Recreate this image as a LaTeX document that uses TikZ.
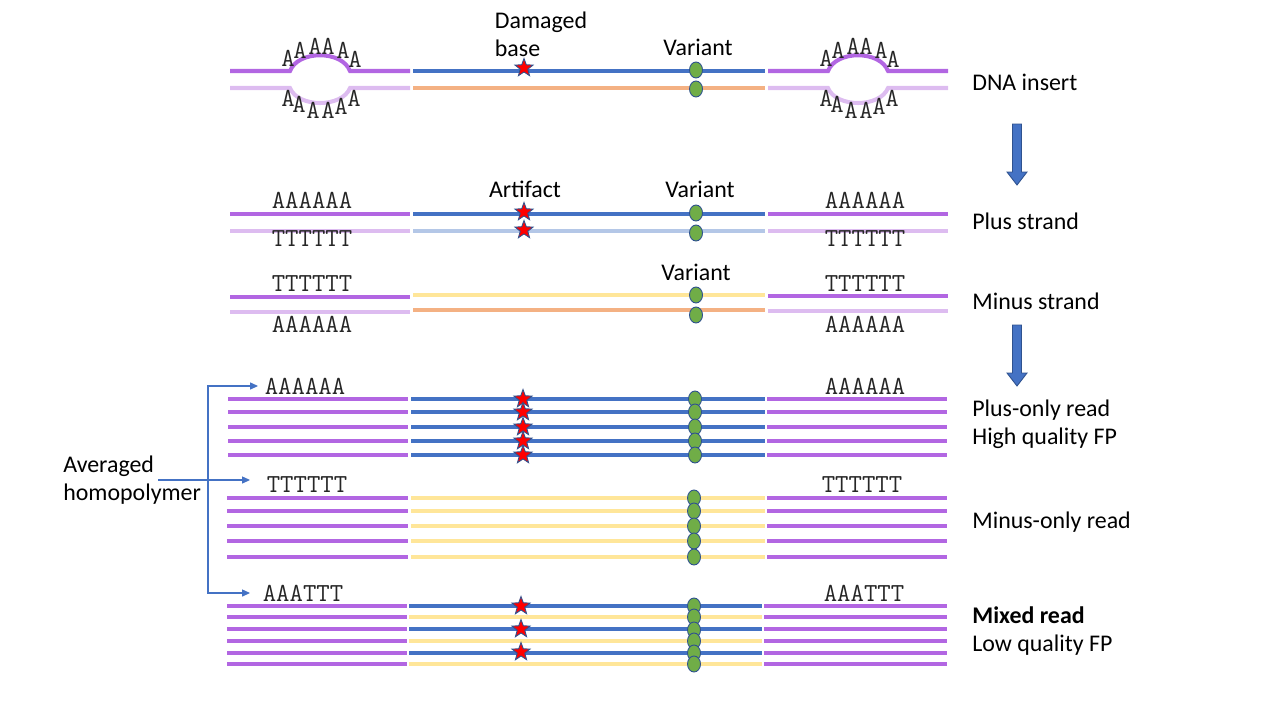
\documentclass[tikz,border=0pt]{standalone}
\usepackage{fontspec}
\setmainfont{Carlito}
\usetikzlibrary{shapes.geometric,arrows.meta}

\definecolor{strandpurple}{RGB}{178,102,226}
\definecolor{strandlilac}{RGB}{221,188,240}
\definecolor{plusblue}{RGB}{68,114,196}
\definecolor{lightblue}{RGB}{180,199,231}
\definecolor{minusyellow}{RGB}{255,230,153}
\definecolor{origorange}{RGB}{244,177,131}
\definecolor{vargreen}{RGB}{112,173,71}
\definecolor{outline}{RGB}{47,82,143}

\newcommand{\lblfont}{\fontsize{13.6pt}{15.9pt}\selectfont}
\newcommand{\homfont}{\fontsize{14.8pt}{17pt}\selectfont\ttfamily}

\begin{document}
\begin{tikzpicture}[x=0.02cm, y=-0.02cm,
    strand/.style={line width=2.3pt},
    purp/.style={strand, draw=strandpurple},
    lpurp/.style={strand, draw=strandlilac},
    plus/.style={strand, draw=plusblue},
    lplus/.style={strand, draw=lightblue},
    minus/.style={strand, draw=minusyellow},
    orng/.style={strand, draw=origorange},
    dmg/.style={star, star points=5, star point ratio=2.4, fill=red, draw=outline, line width=0.5pt, minimum size=0.38cm, inner sep=0pt},
    var/.style={ellipse, fill=vargreen, draw=outline, line width=0.5pt, minimum width=0.26cm, minimum height=0.32cm, inner sep=0pt},
    hom/.style={font=\homfont, inner sep=0pt, text=black!85},
    lbl/.style={font=\lblfont, inner sep=0pt, align=left},
    link/.style={draw=plusblue, line width=0.6pt, -{Triangle[length=4.5pt, width=4pt]}},
    downarrow/.style={fill=plusblue, draw=outline, line width=0.5pt}]
					\useasboundingbox (0,0) rectangle (1280,720);
					
					% Draw DNA insert, with homopolymer bubbles on both ends
					\foreach \dx in {0,538} {
						\draw[purp] (230+\dx,71) -- (290+\dx,71) .. controls (298+\dx,50) and (342+\dx,50) .. (350+\dx,71) -- (410+\dx,71);
						\draw[lpurp] (230+\dx,88) -- (290+\dx,88) .. controls (298+\dx,108) and (342+\dx,108) .. (350+\dx,88) -- (410+\dx,88);
						\foreach \ax/\ay [count=\i] in {288/58, 300/50, 315/46, 328/46, 343/50, 355/59}
						\node[hom] (atop\i-\dx) at (\ax+\dx,\ay) {A};
						\foreach \ax/\ay [count=\i] in {288/98, 299/104, 313/110, 328/110, 341/106, 354/98}
						\node[hom] (abot\i-\dx) at (\ax+\dx,\ay) {A};
					}
					\draw[plus] (413,71) -- (765,71);
					\draw[orng] (413,88) -- (765,88);
					\node[dmg] (dmg1) at (524,68) {};
					\node[var] (var1) at (696,70) {};
					\node[var] (var2) at (696,89) {};
					\node[lbl] (dmglabel) at (541,34) {Damaged\\base};
					\node[lbl] (varlabel1) at (698,47) {Variant};
					\node[lbl, anchor=west] (insert) at (972,82) {DNA insert};
					
					% Draw the two down arrows
					\foreach \t in {124,325}
					\filldraw[downarrow] (1012.5,\t) -- (1021.5,\t) -- (1021.5,\t+48) -- (1027,\t+48) -- (1017,\t+61) -- (1007,\t+48) -- (1012.5,\t+48) -- cycle;
					
					% Draw plus strand
					\draw[purp] (230,214) -- (410,214);
					\draw[lpurp] (230,231) -- (410,231);
					\draw[purp] (768,214) -- (948,214);
					\draw[lpurp] (768,231) -- (948,231);
					\draw[plus] (413,214) -- (765,214);
					\draw[lplus] (413,231) -- (765,231);
					\node[dmg] (dmg2) at (524,212) {};
					\node[dmg] (dmg3) at (524,230) {};
					\node[var] (var3) at (696,213) {};
					\node[var] (var4) at (696,233) {};
					\node[hom] (pa1) at (312,200) {AAAAAA};
					\node[hom] (pt1) at (312,239) {TTTTTT};
					\node[hom] (pa2) at (865,200) {AAAAAA};
					\node[hom] (pt2) at (865,239) {TTTTTT};
					\node[lbl] (artifact) at (525,189) {Artifact};
					\node[lbl] (varlabel2) at (700,189) {Variant};
					\node[lbl, anchor=west] (plusstrand) at (972,221) {Plus strand};
					
					% Draw minus strand
					\draw[purp] (230,297) -- (410,297);
					\draw[lpurp] (230,312) -- (410,312);
					\draw[purp] (768,296) -- (948,296);
					\draw[lpurp] (768,311) -- (948,311);
					\draw[minus] (413,295) -- (765,295);
					\draw[orng] (413,310) -- (765,310);
					\node[var] (var5) at (696,295) {};
					\node[var] (var6) at (696,315) {};
					\node[hom] (mt1) at (312,284) {TTTTTT};
					\node[hom] (ma1) at (312,324) {AAAAAA};
					\node[hom] (mt2) at (865,284) {TTTTTT};
					\node[hom] (ma2) at (865,324) {AAAAAA};
					\node[lbl] (varlabel3) at (696,272) {Variant};
					\node[lbl, anchor=west] (minusstrand) at (972,301) {Minus strand};
					
					% Draw plus-only reads
					\foreach \y [count=\i] in {399,412,427,441,455} {
						\draw[purp] (228,\y) -- (408,\y);
						\draw[plus] (411,\y) -- (765,\y);
						\draw[purp] (767,\y) -- (947,\y);
						\node[dmg] (dmgp\i) at (523,\y) {};
						\node[var] (varp\i) at (695,\y) {};
					}
					\node[hom] (ra1) at (305,386) {AAAAAA};
					\node[hom] (ra2) at (865,386) {AAAAAA};
					\node[lbl, anchor=west] (plusonly) at (972,424) {Plus-only read\\High quality FP};
					
					% Draw minus-only reads
					\foreach \y [count=\i] in {498,511,526,541,557} {
						\draw[purp] (227,\y) -- (408,\y);
						\draw[minus] (411,\y) -- (765,\y);
						\draw[purp] (767,\y) -- (947,\y);
						\node[var] (varm\i) at (694,\y) {};
					}
					\node[hom] (rt1) at (307,485) {TTTTTT};
					\node[hom] (rt2) at (862,485) {TTTTTT};
					\node[lbl, anchor=west] (minusonly) at (972,522) {Minus-only read};
					
					% Draw mixed reads, plus and minus in turn
					\foreach \y/\s [count=\i] in {606/plus,617/minus,629/plus,641/minus,653/plus,664/minus} {
						\draw[purp] (227,\y) -- (407,\y);
						\draw[\s] (409,\y) -- (762,\y);
						\draw[purp] (764,\y) -- (947,\y);
					}
					\foreach \y [count=\i] in {606,629,652}
					\node[dmg] (dmgx\i) at (521,\y) {};
					\foreach \y [count=\i] in {606,617,630,641,653,664}
					\node[var] (varx\i) at (694,\y) {};
					\node[hom] (rx1) at (303,593) {AAATTT};
					\node[hom] (rx2) at (864,593) {AAATTT};
					\node[lbl, anchor=west] (mixed) at (972,631) {\textbf{Mixed read}\\Low quality FP};
					
					% Averaged homopolymer, pointing at the three read groups
					\node[lbl, anchor=west] (hp) at (63,480) {Averaged\\homopolymer};
					\coordinate (hpout) at (158,480);
					\coordinate (split) at (208,480);
					\coordinate (tipA) at (258,386);
					\coordinate (tipB) at (250,480);
					\coordinate (tipC) at (250,593);
					\draw[link] (hpout) -- (tipB);
					\draw[link] (split) |- (tipA);
					\draw[link] (split) |- (tipC);
\end{tikzpicture}
\end{document}
